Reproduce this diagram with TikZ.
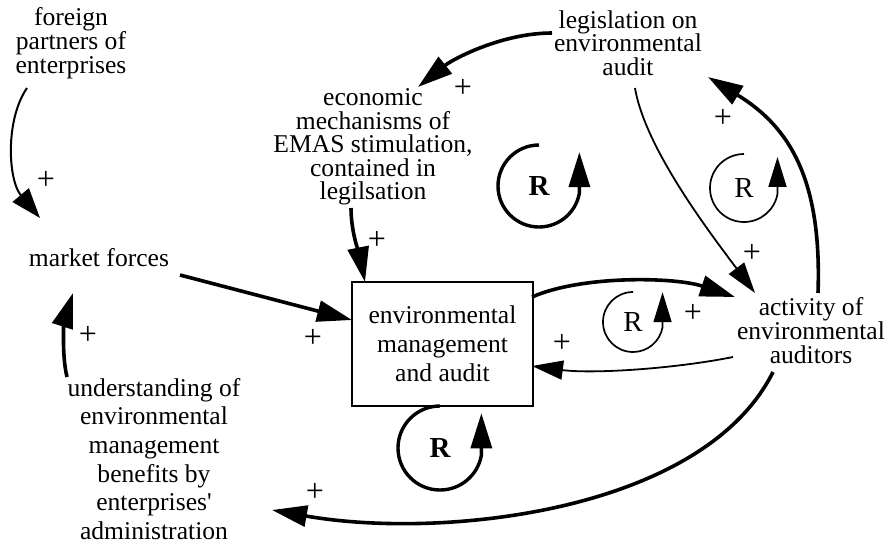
\documentclass[tikz,border=0pt]{standalone}
\usepackage{fontspec}
\setmainfont{Liberation Serif}[Ligatures=TeXOff]
\usetikzlibrary{arrows.meta}

\begin{document}
\begin{tikzpicture}[x=1pt,y=-1pt,
  lbl/.style={align=center, inner sep=0pt, font=\fontsize{25.6}{23.5}\selectfont},
  lbltall/.style={align=center, inner sep=0pt, font=\fontsize{25.6}{29}\selectfont},
  sign/.style={inner sep=0pt, font=\fontsize{32}{32}\selectfont},
  loopR/.style={inner sep=0pt, font=\fontsize{29}{29}\selectfont},
  heavylink/.style={line width=3.6pt, -{Triangle[length=35pt,width=21pt]}},
  lightlink/.style={line width=1.8pt, -{Triangle[length=31pt,width=19pt]}},
  heavyloop/.style={line width=3.4pt, -{Triangle[length=35pt,width=21pt]}},
  lightloop/.style={line width=1.7pt, -{Triangle[length=30pt,width=18pt]}},
]
\useasboundingbox (0,0) rectangle (887,542);

% variables
\node[lbl] (foreign) at (71,43) {foreign\\partners of\\enterprises};
\node[lbl] (legis) at (628,43) {legislation on\\environmental\\audit};
\node[lbl] (econ) at (373,147) {economic\\mechanisms of\\EMAS stimulation,\\contained in\\legilsation};
\node[lbl] (market) at (99,258) {market forces};
\node[draw, line width=1.8pt, minimum width=181pt, minimum height=124pt,
      lbltall, inner sep=0pt] (ema) at (442.5,344) {environmental\\management\\and audit};
\node[lbl, font=\fontsize{25.6}{24}\selectfont] (activity) at (811,331) {activity of\\environmental\\auditors};
\node[lbltall, font=\fontsize{25.6}{28.6}\selectfont] (underst) at (154,459) {understanding of\\environmental\\management\\benefits by\\enterprises'\\administration};

% causal links
\draw[lightlink, line width=2pt, -{Triangle[length=30pt,width=21pt]}]
  ([shift={(-44,45)}]foreign.center) .. controls +(-22,32) and +(-32,-38) .. ([shift={(-59,-40)}]market.center);
\draw[heavylink]
  ([shift={(-76,-10)}]legis.center) .. controls +(-50,0) and +(35,-28) .. ([shift={(45,-60)}]econ.center);
\draw[heavylink]
  ([shift={(-22,61)}]econ.center) .. controls +(0,25) and +(-5,-25) .. ([shift={(-77.5,-62)}]ema.center);
\draw[heavylink]
  ([shift={(81,17)}]market.center) -- ([shift={(-90.5,-24)}]ema.center);
\draw[heavylink]
  ([shift={(-87,-82)}]underst.center) .. controls +(-6,-25) and +(-8,25) .. ([shift={(-26,35)}]market.center);
\draw[lightlink]
  ([shift={(7,45)}]legis.center) .. controls +(10,60) and +(-45,-60) .. ([shift={(-56,-38)}]activity.center);
\draw[heavylink]
  ([shift={(7,-38)}]activity.center) .. controls +(4,-113) and +(82,50) .. ([shift={(80,34)}]legis.center);
\draw[heavylink]
  ([shift={(89.5,-47)}]ema.center) .. controls +(50,-22) and +(-60,-20) .. ([shift={(-76,-34)}]activity.center);
\draw[lightlink]
  ([shift={(-78,26)}]activity.center) .. controls +(-60,12) and +(60,8) .. ([shift={(89.5,22)}]ema.center);
\draw[heavylink]
  ([shift={(-38,41)}]activity.center) .. controls +(-70,140) and +(170,30) .. ([shift={(118,51)}]underst.center);

% polarities
\node[sign] (p1) at (46,180) {+};
\node[sign] (p2) at (463,88) {+};
\node[sign] (p3) at (377,240) {+};
\node[sign] (p4) at (313,338) {+};
\node[sign] (p5) at (88,335) {+};
\node[sign] (p6) at (723,118) {+};
\node[sign] (p7) at (752,253) {+};
\node[sign] (p8) at (693,313) {+};
\node[sign] (p9) at (562,343) {+};
\node[sign] (p10) at (315,492) {+};

% reinforcing loop markers
\node[loopR, font=\fontsize{29}{29}\selectfont\bfseries] (r1) at (539,186) {R};
\node[loopR] (r2) at (744,188) {R};
\node[loopR] (r3) at (633,322) {R};
\node[loopR, font=\fontsize{29}{29}\selectfont\bfseries] (r4) at (440,448) {R};

\draw[heavyloop] ([shift={(0,-41)}]r1.center) arc[start angle=270, end angle=10, radius=41] -- ++(0,-41);
\draw[lightloop] ([shift={(0,-34)}]r2.center) arc[start angle=270, end angle=10, radius=34] -- ++(0,-37);
\draw[lightloop] ([shift={(0,-30)}]r3.center) arc[start angle=270, end angle=10, radius=30] -- ++(0,-35);
\draw[heavyloop] ([shift={(0,-42)}]r4.center) arc[start angle=270, end angle=10, radius=42] -- ++(0,-42);
\end{tikzpicture}
\end{document}
